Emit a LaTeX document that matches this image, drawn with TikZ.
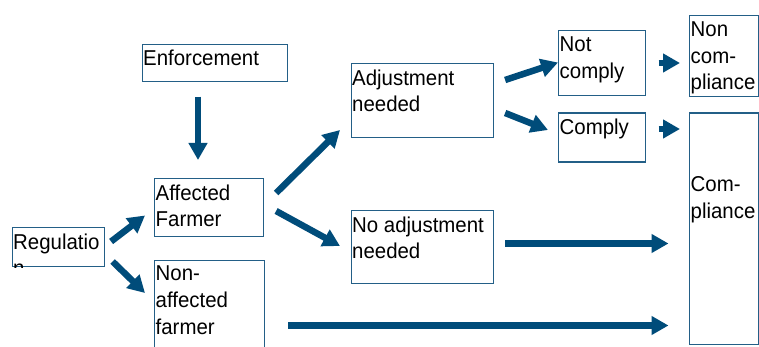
\documentclass[tikz,border=0pt]{standalone}
\usepackage{fontspec}
\newfontfamily\lab[FakeStretch=0.95]{Liberation Sans}
\usetikzlibrary{arrows.meta,calc}
\definecolor{arrblue}{RGB}{0,76,122}
\definecolor{boxblue}{RGB}{35,95,135}
\begin{document}
\begin{tikzpicture}[x=1pt,y=-1pt,
  box/.style={draw=boxblue,line width=1.1pt,rectangle,inner sep=0pt,anchor=north west},
  txt/.style={anchor=north west,inner sep=0pt,align=left,
    font=\lab\fontsize{21.5}{26.7}\selectfont,text=black},
  arr/.style={draw=arrblue,line width=6.5pt,
    -{Triangle[length=17pt,width=18pt]}}]
\clip (0,0) rectangle (759,347);
\fill[white] (0,0) rectangle (759,347);
% boxes
\node[box,minimum width=145pt,minimum height=37pt] (enf) at (142,44) {};
\node[box,minimum width=109pt,minimum height=58pt] (aff) at (154,178) {};
\node[box,minimum width=92pt,minimum height=39pt] (reg) at (12,227) {};
\node[box,minimum width=110pt,minimum height=95pt] (non) at (154,259.5) {};
\node[box,minimum width=142pt,minimum height=74pt] (adj) at (351,63) {};
\node[box,minimum width=142pt,minimum height=73pt] (noadj) at (351,210) {};
\node[box,minimum width=87pt,minimum height=65pt] (notc) at (558,30) {};
\node[box,minimum width=87pt,minimum height=49pt] (comp) at (558,112.5) {};
\node[box,minimum width=69pt,minimum height=81pt] (ncomp) at (689,15) {};
\node[box,minimum width=69pt,minimum height=231pt] (compl) at (689,112.5) {};
% texts
\node[txt] (tenf) at ($(enf.north west)+(1,5.5)$) {Enforcement};
\node[txt] (taff) at ($(aff.north west)+(1.5,6.5)$) {Affected\\Farmer};
\begin{scope}
\clip (reg.north west) rectangle (reg.south east);
\node[txt] (treg) at ($(reg.north west)+(1,6.5)$) {Regulatio\\n};
\end{scope}
\node[txt] (tnon) at ($(non.north west)+(1.5,6.5)$) {Non-\\affected\\farmer};
\node[txt] (tadj) at ($(adj.north west)+(1,6.5)$) {Adjustment\\needed};
\node[txt] (tnoadj) at ($(noadj.north west)+(1,6.5)$) {No adjustment\\needed};
\node[txt] (tnotc) at ($(notc.north west)+(1.5,6.5)$) {Not\\comply};
\node[txt] (tcomp) at ($(comp.north west)+(1.5,6.5)$) {Comply};
\node[txt] (tncomp) at ($(ncomp.north west)+(1.5,6.5)$) {Non\\com-\\pliance};
\node[txt] (tcompl) at ($(compl.north west)+(1.5,64)$) {Com-\\pliance};
% arrows
\draw[arr] ($(enf.south west)+(56,14.5)$) -- ($(aff.north west)+(44,-18)$);
\draw[arr] ($(reg.north east)+(6,14.5)$) -- ($(aff.north west)+(-9,37.5)$);
\draw[arr] ($(reg.north east)+(7.5,34.5)$) -- ($(non.north west)+(-9,33.5)$);
\draw[arr] ($(aff.north east)+(12,15)$) -- ($(adj.north west)+(-11,67)$);
\draw[arr] ($(aff.north east)+(12,33)$) -- ($(noadj.north west)+(-11,36)$);
\draw[arr] ($(adj.north east)+(11,17)$) -- ($(notc.north west)+(0,32.5)$);
\draw[arr] ($(adj.north east)+(11,50)$) -- ($(comp.north west)+(-10,17.5)$);
\draw[arr] ($(notc.north east)+(12.5,33)$) -- ($(ncomp.north west)+(-9,48)$);
\draw[arr] ($(comp.north east)+(12.5,16.5)$) -- ($(compl.north west)+(-9,16.5)$);
\draw[arr] ($(noadj.north east)+(11,33.5)$) -- ($(compl.north west)+(-20.5,131)$);
\draw[arr] ($(non.north east)+(23,66)$) -- ($(compl.north west)+(-20.5,213)$);
\end{tikzpicture}
\end{document}
